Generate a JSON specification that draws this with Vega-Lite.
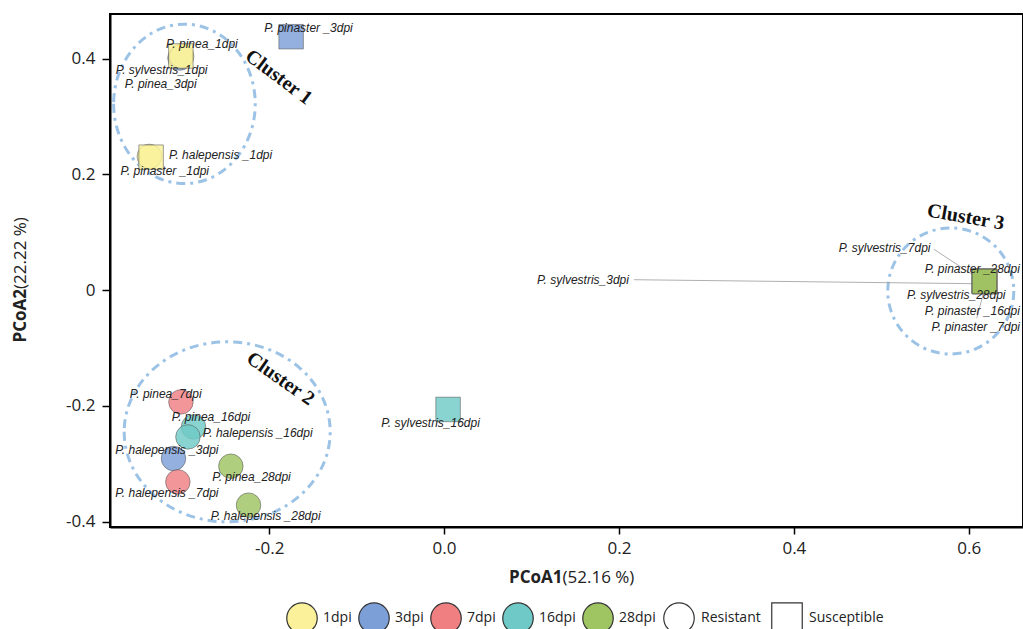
{
  "$schema": "https://vega.github.io/schema/vega-lite/v6.json",
  "width": 913,
  "height": 513,
  "autosize": {"type": "none"},
  "padding": {"left": 110, "top": 14, "right": 0, "bottom": 102},
  "background": "white",
  "config": {
    "view": {"stroke": "black", "strokeWidth": 2},
    "axis": {
      "grid": false,
      "domainColor": "black",
      "domainWidth": 2,
      "tickColor": "black",
      "tickWidth": 1.5,
      "labelFont": "Open Sans",
      "labelFontSize": 17,
      "labelColor": "#222",
      "titleFont": "Open Sans",
      "titleFontSize": 17,
      "titleColor": "#222"
    },
    "legend": {
      "labelFont": "Open Sans",
      "labelFontSize": 14,
      "labelColor": "#222",
      "labelOffset": 5,
      "columnPadding": 4,
      "padding": 0,
      "symbolSize": 930,
      "symbolStrokeColor": "#333",
      "symbolStrokeWidth": 1.2,
      "symbolOpacity": 1
    }
  },
  "datasets": {
    "pts": [
      {"label": "P. pinea_3dpi", "dpi": "3dpi", "type": "Resistant", "x": -0.302, "y": 0.401, "lx": -0.324, "ly": 0.356},
      {"label": "P. pinea_1dpi", "dpi": "1dpi", "type": "Resistant", "x": -0.3, "y": 0.404, "lx": -0.277, "ly": 0.426},
      {"label": "P. sylvestris_1dpi", "dpi": "1dpi", "type": "Susceptible", "x": -0.301, "y": 0.4045, "lx": -0.323, "ly": 0.381},
      {"label": "P. halepensis _1dpi", "dpi": "1dpi", "type": "Resistant", "x": -0.337, "y": 0.231, "lx": -0.2556, "ly": 0.233},
      {"label": "P. pinaster _1dpi", "dpi": "1dpi", "type": "Susceptible", "x": -0.335, "y": 0.2297, "lx": -0.3194, "ly": 0.2055},
      {"label": "P. pinaster _3dpi", "dpi": "3dpi", "type": "Susceptible", "x": -0.1749, "y": 0.4378, "lx": -0.155, "ly": 0.452},
      {"label": "P. pinea_7dpi", "dpi": "7dpi", "type": "Resistant", "x": -0.3009, "y": -0.1929, "lx": -0.3183, "ly": -0.1796},
      {"label": "P. pinea_16dpi", "dpi": "16dpi", "type": "Resistant", "x": -0.2865, "y": -0.2361, "lx": -0.2665, "ly": -0.2188},
      {"label": "P. halepensis _16dpi", "dpi": "16dpi", "type": "Resistant", "x": -0.2929, "y": -0.2534, "lx": -0.2131, "ly": -0.2464},
      {"label": "P. halepensis _3dpi", "dpi": "3dpi", "type": "Resistant", "x": -0.3094, "y": -0.2907, "lx": -0.3169, "ly": -0.2763},
      {"label": "P. pinea_28dpi", "dpi": "28dpi", "type": "Resistant", "x": -0.2438, "y": -0.304, "lx": -0.2202, "ly": -0.3235},
      {"label": "P. halepensis _7dpi", "dpi": "7dpi", "type": "Resistant", "x": -0.3044, "y": -0.3311, "lx": -0.3169, "ly": -0.3511},
      {"label": "P. halepensis _28dpi", "dpi": "28dpi", "type": "Resistant", "x": -0.2236, "y": -0.3713, "lx": -0.204, "ly": -0.3903},
      {"label": "P. sylvestris_16dpi", "dpi": "16dpi", "type": "Susceptible", "x": 0.0046, "y": -0.206, "lx": -0.0154, "ly": -0.2292},
      {"label": "P. sylvestris_3dpi", "dpi": "3dpi", "type": "Susceptible", "x": 0.6175, "y": 0.0152, "lx": 0.1589, "ly": 0.0173},
      {"label": "P. pinaster _16dpi", "dpi": "16dpi", "type": "Susceptible", "x": 0.6182, "y": 0.0148, "lx": 0.604, "ly": -0.0357},
      {"label": "P. sylvestris_7dpi", "dpi": "7dpi", "type": "Susceptible", "x": 0.6178, "y": 0.0155, "lx": 0.5037, "ly": 0.0737},
      {"label": "P. pinaster _7dpi", "dpi": "7dpi", "type": "Susceptible", "x": 0.6184, "y": 0.015, "lx": 0.608, "ly": -0.0639},
      {"label": "P. sylvestris_28dpi", "dpi": "28dpi", "type": "Susceptible", "x": 0.618, "y": 0.0153, "lx": 0.5857, "ly": -0.0086},
      {"label": "P. pinaster _28dpi", "dpi": "28dpi", "type": "Susceptible", "x": 0.6179, "y": 0.015, "lx": 0.604, "ly": 0.0363}
    ],
    "leaders": [
      {"x": 0.2171, "y": 0.0181, "x2": 0.6069, "y2": 0.0112},
      {"x": 0.56, "y": 0.0708, "x2": 0.6069, "y2": 0.0242},
      {"x": 0.6171, "y": -0.0035, "x2": 0.6091, "y2": -0.0484}
    ],
    "clusters": [
      {"name": "Cluster 1", "cx": -0.2969, "cy": 0.3218, "tx": -0.189, "ty": 0.368},
      {"name": "Cluster 2", "cx": -0.248, "cy": -0.2447, "tx": -0.187, "ty": -0.153},
      {"name": "Cluster 3", "cx": 0.5794, "cy": -0.0014, "tx": 0.5966, "ty": 0.1261}
    ]
  },
  "layer": [
    {
      "mark": {"type": "rule", "color": "#c4c4c4", "strokeWidth": 1},
      "encoding": {
        "x": {"datum": 0, "type": "quantitative", "scale": {"domain": [-0.382, 0.662], "nice": false, "zero": false}, "axis": null}
      }
    },
    {
      "mark": {"type": "rule", "color": "#c4c4c4", "strokeWidth": 1},
      "encoding": {
        "y": {"datum": 0, "type": "quantitative", "scale": {"domain": [-0.409, 0.477], "nice": false, "zero": false}, "axis": null}
      }
    },
    {
      "data": {"name": "clusters"},
      "transform": [{"filter": "datum.name == 'Cluster 1'"}],
      "mark": {"type": "point", "shape": "M -1 0 A 1 1.126 0 1 0 1 0 A 1 1.126 0 1 0 -1 0 Z", "size": 20051, "filled": false, "stroke": "#9cc3e6", "strokeWidth": 3, "strokeDash": [9, 5, 3, 5], "opacity": 1},
      "encoding": {
        "x": {"field": "cx", "type": "quantitative", "axis": null},
        "y": {"field": "cy", "type": "quantitative", "axis": null}
      }
    },
    {
      "data": {"name": "clusters"},
      "transform": [{"filter": "datum.name == 'Cluster 2'"}],
      "mark": {"type": "point", "shape": "M -1 0 A 1 0.874 0 1 0 1 0 A 1 0.874 0 1 0 -1 0 Z", "size": 42436, "filled": false, "stroke": "#9cc3e6", "strokeWidth": 3, "strokeDash": [9, 5, 3, 5], "opacity": 1},
      "encoding": {
        "x": {"field": "cx", "type": "quantitative", "axis": null},
        "y": {"field": "cy", "type": "quantitative", "axis": null}
      }
    },
    {
      "data": {"name": "clusters"},
      "transform": [{"filter": "datum.name == 'Cluster 3'"}],
      "mark": {"type": "point", "shape": "circle", "size": 15876, "filled": false, "stroke": "#9cc3e6", "strokeWidth": 3, "strokeDash": [9, 5, 3, 5], "opacity": 1},
      "encoding": {
        "x": {"field": "cx", "type": "quantitative", "axis": null},
        "y": {"field": "cy", "type": "quantitative", "axis": null}
      }
    },
    {
      "data": {"name": "leaders"},
      "mark": {"type": "rule", "color": "#9a9a9a", "strokeWidth": 0.8},
      "encoding": {
        "x": {"field": "x", "type": "quantitative", "axis": null},
        "y": {"field": "y", "type": "quantitative", "axis": null},
        "x2": {"field": "x2"},
        "y2": {"field": "y2"}
      }
    },
    {
      "data": {"name": "pts"},
      "mark": {"type": "point", "filled": true, "size": 600, "stroke": "#555", "strokeWidth": 0.7, "fillOpacity": 0.82, "strokeOpacity": 0.8},
      "encoding": {
        "x": {
          "field": "x", "type": "quantitative",
          "axis": {
            "orient": "bottom",
            "title": "PCoA1",
            "titleFontWeight": "bold",
            "values": [-0.2, 0, 0.2, 0.4, 0.6],
            "labelExpr": "(datum.value < 0 ? '-' : '') + format(abs(datum.value), '.1f')",
            "tickSize": 7,
            "labelPadding": 6,
            "titleX": 452,
            "titleY": 50,
            "titleAlign": "right",
            "titleBaseline": "middle"
          }
        },
        "y": {
          "field": "y", "type": "quantitative",
          "axis": {
            "orient": "left",
            "title": "PCoA2",
            "titleFontWeight": "bold",
            "values": [-0.4, -0.2, 0, 0.2, 0.4],
            "labelExpr": "datum.value == 0 ? '0' : (datum.value < 0 ? '-' : '') + format(abs(datum.value), '.1f')",
            "tickSize": 8,
            "labelPadding": 7,
            "titleAngle": -90,
            "titleX": -90,
            "titleY": 274.5,
            "titleAlign": "right",
            "titleBaseline": "middle"
          }
        },
        "fill": {
          "field": "dpi", "type": "nominal",
          "scale": {"domain": ["1dpi", "3dpi", "7dpi", "16dpi", "28dpi"], "range": ["#faf19a", "#7d9fd8", "#f07f82", "#6fcac7", "#9fc462"]},
          "legend": {"orient": "none", "legendX": 176, "legendY": 588, "direction": "horizontal", "title": null, "symbolType": "circle", "symbolFillOpacity": 1}
        },
        "shape": {
          "field": "type", "type": "nominal",
          "scale": {"domain": ["Resistant", "Susceptible"], "range": ["circle", "square"]},
          "legend": {"orient": "none", "legendX": 553, "legendY": 588, "direction": "horizontal", "title": null, "symbolFillColor": "white", "symbolFillOpacity": 1, "labelOffset": 6, "columnPadding": 8}
        }
      }
    },
    {
      "data": {"name": "pts"},
      "mark": {"type": "text", "font": "Liberation Sans", "fontStyle": "italic", "fontSize": 12, "color": "#222", "align": "center", "baseline": "middle"},
      "encoding": {
        "x": {
          "field": "lx", "type": "quantitative",
          "axis": {
            "orient": "bottom",
            "title": "(52.16 %)",
            "titleFontWeight": "normal",
            "labels": false, "ticks": false, "domain": false,
            "titleX": 452,
            "titleY": 50,
            "titleAlign": "left",
            "titleBaseline": "middle"
          }
        },
        "y": {
          "field": "ly", "type": "quantitative",
          "axis": {
            "orient": "left",
            "title": "(22.22 %)",
            "titleFontWeight": "normal",
            "labels": false, "ticks": false, "domain": false,
            "titleAngle": -90,
            "titleX": -90,
            "titleY": 274.5,
            "titleAlign": "left",
            "titleBaseline": "middle"
          }
        },
        "text": {"field": "label"}
      }
    },
    {
      "data": {"name": "clusters"},
      "transform": [{"filter": "datum.name == 'Cluster 1'"}],
      "mark": {"type": "text", "font": "Liberation Serif", "fontWeight": "bold", "fontSize": 20, "angle": 37, "align": "center", "baseline": "middle", "color": "#111"},
      "encoding": {
        "x": {"field": "tx", "type": "quantitative", "axis": null},
        "y": {"field": "ty", "type": "quantitative", "axis": null},
        "text": {"field": "name"}
      }
    },
    {
      "data": {"name": "clusters"},
      "transform": [{"filter": "datum.name == 'Cluster 2'"}],
      "mark": {"type": "text", "font": "Liberation Serif", "fontWeight": "bold", "fontSize": 20, "angle": 35, "align": "center", "baseline": "middle", "color": "#111"},
      "encoding": {
        "x": {"field": "tx", "type": "quantitative", "axis": null},
        "y": {"field": "ty", "type": "quantitative", "axis": null},
        "text": {"field": "name"}
      }
    },
    {
      "data": {"name": "clusters"},
      "transform": [{"filter": "datum.name == 'Cluster 3'"}],
      "mark": {"type": "text", "font": "Liberation Serif", "fontWeight": "bold", "fontSize": 20, "angle": 10, "align": "center", "baseline": "middle", "color": "#111"},
      "encoding": {
        "x": {"field": "tx", "type": "quantitative", "axis": null},
        "y": {"field": "ty", "type": "quantitative", "axis": null},
        "text": {"field": "name"}
      }
    }
  ],
  "resolve": {"axis": {"x": "independent", "y": "independent"}}
}
